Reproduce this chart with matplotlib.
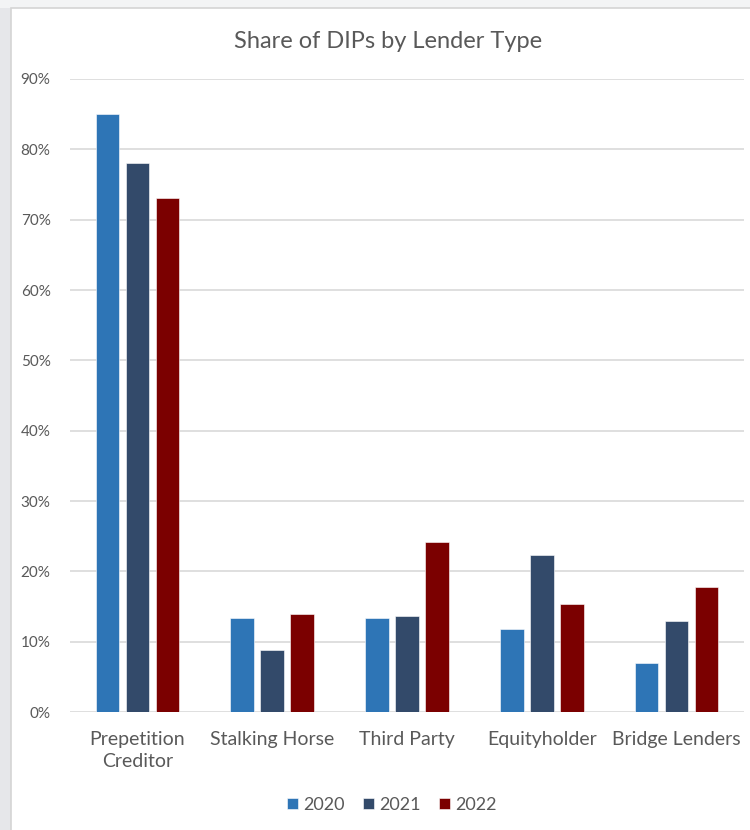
import numpy as np
import matplotlib.pyplot as plt
from matplotlib.patches import Rectangle
from matplotlib.ticker import FuncFormatter

categories = ['Prepetition\nCreditor', 'Stalking Horse', 'Third Party', 'Equityholder', 'Bridge Lenders']
years = ['2020', '2021', '2022']
share_2020 = [0.85, 0.134, 0.134, 0.118, 0.069]
share_2021 = [0.78, 0.088, 0.136, 0.223, 0.130]
share_2022 = [0.731, 0.140, 0.242, 0.153, 0.178]

colors = ['#2e75b6', '#334a6a', '#7b0000']
text_gray = '#595959'

plt.rcParams['font.family'] = ['Lato', 'DejaVu Sans']

fig = plt.figure(figsize=(7.5, 8.3), dpi=100)

# grey window strip on the left/top and the chart frame
fig.patches.append(Rectangle((0, 0), 11/750, 1, transform=fig.transFigure,
                             facecolor='#e6e7ea', edgecolor='none', zorder=-10))
fig.patches.append(Rectangle((0, 1 - 8/830), 1, 8/830, transform=fig.transFigure,
                             facecolor='#f3f4f5', edgecolor='none', zorder=-10))
fig.patches.append(Rectangle((11/750, -0.01), 1, 1 - 8/830 + 0.01, transform=fig.transFigure,
                             facecolor='white', edgecolor='#d4d4d4', linewidth=1.2, zorder=-9))

ax = fig.add_axes([70/750, 1 - 712/830, 674/750, (712 - 79)/830])
ax.set_zorder(5)
ax.patch.set_alpha(0)

x = np.arange(len(categories))
step = 0.2225
width = 0.176
series = [share_2020, share_2021, share_2022]
for i, (vals, yr) in enumerate(zip(series, years)):
    ax.bar(x + (i - 1) * step, vals, width, color=colors[i], label=yr,
           edgecolor='white', linewidth=0.4, zorder=3)

ax.set_xlim(-0.5, len(categories) - 0.5)
ax.set_ylim(0, 0.9)
ax.set_yticks(np.arange(0, 0.91, 0.1))
ax.yaxis.set_major_formatter(FuncFormatter(lambda v, p: f'{v*100:.0f}%'))
ax.grid(axis='y', color='#d9d9d9', linewidth=1.2, zorder=0)
for s in ax.spines.values():
    s.set_visible(False)
ax.tick_params(axis='y', length=0, pad=14, labelsize=11, labelcolor=text_gray)
ax.tick_params(axis='x', length=0, pad=14, labelsize=14, labelcolor=text_gray)
ax.set_xticks(x)
ax.set_xticklabels(categories, linespacing=1.35)

fig.text(388/750, 1 - 42/830, 'Share of DIPs by Lender Type', ha='center', va='center',
         fontsize=17, color=text_gray)

leg = fig.legend(loc='center', bbox_to_anchor=(392/750, 1 - 805/830), ncol=3, frameon=False,
                 fontsize=13, handlelength=0.6, handleheight=0.6, handletextpad=0.3,
                 columnspacing=1.0, labelcolor=text_gray)

fig.savefig('out.png', dpi=100)
